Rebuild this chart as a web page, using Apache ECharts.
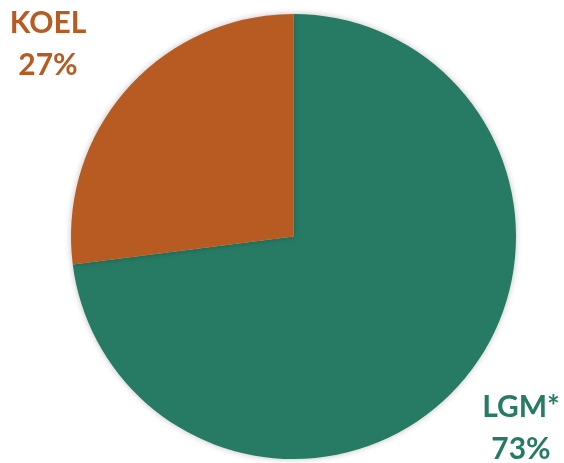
<!DOCTYPE html>
<html><head><meta charset="utf-8">
<script src="https://cdn.jsdelivr.net/npm/echarts@6/dist/echarts.min.js"></script>
<style>html,body{margin:0;padding:0;background:#fff}#c{width:564px;height:463px}</style>
</head><body><div id="c"></div>
<script>
const categories = ['LGM*', 'KOEL'];
const values = [73, 27];
const colors = ['#277B64', '#B85B22'];
const labelPos = [[521, 428], [48, 44]];

const chart = echarts.init(document.getElementById('c'));
chart.setOption({
  animation: false,
  series: [{
    type: 'pie',
    center: [293.5, 236.5],
    radius: [0, 222.5],
    startAngle: 90,
    clockwise: true,
    data: categories.map((n, i) => ({
      name: n, value: values[i],
      itemStyle: { color: colors[i] },
      label: { color: colors[i] }
    })),
    itemStyle: { shadowBlur: 6, shadowColor: 'rgba(0,0,0,0.25)', borderWidth: 0 },
    label: {
      show: true,
      position: 'outside',
      overflow: 'none',
      formatter: '{b}\n{d}%',
      fontFamily: 'Lato',
      fontWeight: 'bold',
      fontSize: 30,
      lineHeight: 42,
      align: 'center'
    },
    labelLine: { show: false },
    labelLayout: function (p) {
      const pos = labelPos[p.dataIndex];
      return { x: pos[0], y: pos[1], align: 'center', verticalAlign: 'middle' };
    },
    emphasis: { disabled: true }
  }]
});
</script></body></html>
